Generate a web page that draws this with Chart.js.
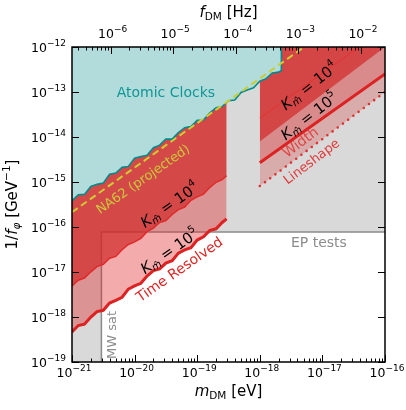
<!DOCTYPE html>
<html><head><meta charset="utf-8">
<script src="https://cdn.jsdelivr.net/npm/chart.js@4.4.1/dist/chart.umd.min.js"></script>
<style>html,body{margin:0;padding:0;background:#fff}#wrap{width:406px;height:410px;position:relative}</style>
</head><body><div id="wrap"><canvas id="c"></canvas></div>
<script>
// ---------- data ----------
const massTicks = [1e-21, 1e-20, 1e-19, 1e-18, 1e-17, 1e-16];          // eV
const freqTicks = [1e-6, 1e-5, 1e-4, 1e-3, 1e-2];                        // Hz
const couplingTicks = [1e-19, 1e-18, 1e-17, 1e-16, 1e-15, 1e-14, 1e-13, 1e-12]; // GeV^-1
const planckEVs = 4.135667e-15; // eV*s, m = h f

// Atomic clocks exclusion boundary
const clockMass = [1e-21,1.26e-21,1.58e-21,2.0e-21,2.51e-21,3.16e-21,3.98e-21,5.01e-21,6.31e-21,7.94e-21,
  1e-20,1.26e-20,1.58e-20,2.0e-20,2.51e-20,3.16e-20,3.98e-20,5.01e-20,6.31e-20,7.94e-20,
  1e-19,1.26e-19,1.58e-19,2.0e-19,2.51e-19,3.16e-19,3.98e-19,5.01e-19,6.31e-19,7.94e-19,
  1e-18,1.26e-18,1.58e-18,2.0e-18,2.21e-18,2.21e-18];
const clockCoupling = [3.80e-16,5.21e-16,5.30e-16,7.96e-16,8.87e-16,9.44e-16,1.49e-15,1.58e-15,2.12e-15,2.20e-15,
  3.39e-15,3.69e-15,3.93e-15,5.77e-15,6.58e-15,9.02e-15,8.95e-15,1.26e-14,1.61e-14,1.71e-14,
  2.34e-14,2.38e-14,3.42e-14,4.48e-14,4.76e-14,6.38e-14,6.64e-14,9.75e-14,1.11e-13,1.24e-13,
  1.74e-13,1.98e-13,2.65e-13,2.76e-13,3.0e-13,1e-12];

// NA62 projection
const na62Mass = [1e-21, 5.1e-18];
const na62Coupling = [2.14e-16, 1e-12];

// Time resolved (K = 1e4, K = 1e5)
const trMass = [1e-21,1.26e-21,1.58e-21,2.0e-21,2.51e-21,3.16e-21,3.98e-21,5.01e-21,6.31e-21,7.94e-21,
  1e-20,1.26e-20,1.58e-20,2.0e-20,2.51e-20,3.16e-20,3.98e-20,5.01e-20,6.31e-20,7.94e-20,
  1e-19,1.26e-19,1.58e-19,2.0e-19,2.51e-19,2.95e-19];
const trK4Coupling = [4.90e-18,6.58e-18,7.35e-18,1.01e-17,1.32e-17,1.48e-17,2.03e-17,2.22e-17,3.12e-17,4.09e-17,
  4.68e-17,5.60e-17,7.87e-17,9.42e-17,1.26e-16,1.38e-16,1.90e-16,2.43e-16,2.78e-16,3.91e-16,
  4.68e-16,5.35e-16,7.52e-16,9.86e-16,1.13e-15,1.38e-15];
const trK5Coupling = [4.68e-19,6.46e-19,6.92e-19,1.00e-18,1.32e-18,1.41e-18,2.04e-18,2.34e-18,2.75e-18,4.17e-18,
  4.90e-18,5.62e-18,8.13e-18,1.07e-17,1.17e-17,1.58e-17,1.78e-17,2.63e-17,3.09e-17,3.47e-17,
  5.13e-17,6.03e-17,8.32e-17,9.12e-17,1.26e-16,1.51e-16];

// Width / lineshape
const widthMass = [1e-18, 1e-16];
const widthEdgeCoupling = [7.94e-15, 1e-12];
const widthK4Coupling = [2.63e-14, 2.63e-12];
const widthK5Coupling = [2.69e-15, 2.51e-13];
const lineshapeCoupling = [8.13e-16, 1.0e-13];

// EP tests and MW satellites
const epCoupling = 7.7e-17;
const mwMass = 2.95e-21;

// ---------- helpers ----------
const F = "'DejaVu Sans'";
Chart.defaults.font.family = "DejaVu Sans";
const zip = (xs, ys) => xs.map((x, i) => ({x, y: ys[i]}));
const expOf = v => Math.round(Math.log10(v));
const xMin = massTicks[0], xMax = massTicks[massTicks.length-1];
const yMin = couplingTicks[0], yMax = couplingTicks[couplingTicks.length-1];

function rich(ctx, segs, x, y, ang, color, align) {
  ctx.save(); ctx.translate(x, y); ctx.rotate(ang * Math.PI / 180);
  let w = 0;
  for (const s of segs) { ctx.font = s.f; s.w = ctx.measureText(s.t).width; w += s.w; }
  let cx = align === 'right' ? -w : -w / 2;
  ctx.textBaseline = 'middle'; ctx.textAlign = 'left'; ctx.fillStyle = color;
  for (const s of segs) { ctx.font = s.f; ctx.fillText(s.t, cx, s.dy || 0); cx += s.w; }
  ctx.restore();
}
const powLabel = v => [{t:'10', f:'12.5px ' + F}, {t:String(expOf(v)).replace('-', '\u2212'), f:'9px ' + F, dy:-5}];
const kLabel = (p) => [
  {t:'K', f:'italic 15px ' + F}, {t:'m\u0302', f:'italic 10px ' + F, dy:4},
  {t:' = 10', f:'15px ' + F}, {t:p, f:'10px ' + F, dy:-6}];

const annotations = [
  {segs:[{t:'Atomic Clocks', f:'14px ' + F}], m:3.16e-20, c:9.5e-14, a:0, col:'#119595'},
  {segs:[{t:'NA62 (projected)', f:'13px ' + F}], m:1.38e-20, c:1.12e-15, a:-35, col:'#c9c93a'},
  {segs:kLabel('4'), m:3.7e-20, c:2.95e-16, a:-35, col:'#000'},
  {segs:kLabel('5'), m:3.7e-20, c:2.77e-17, a:-35, col:'#000'},
  {segs:[{t:'Time Resolved', f:'14px ' + F}], m:5.3e-20, c:1.1e-17, a:-35, col:'#dc2424'},
  {segs:kLabel('4'), m:6.3e-18, c:1.29e-13, a:-38, col:'#000'},
  {segs:kLabel('5'), m:6.3e-18, c:2.77e-14, a:-38, col:'#000'},
  {segs:[{t:'Width', f:'14px ' + F}], m:4.55e-18, c:7.4e-15, a:-37, col:'rgba(225,50,50,0.85)'},
  {segs:[{t:'Lineshape', f:'13px ' + F}], m:6.8e-18, c:2.77e-15, a:-37, col:'#e03a3a'},
  {segs:[{t:'EP tests', f:'14px ' + F}], m:8.8e-18, c:4.4e-17, a:0, col:'#8c8c8c'},
  {segs:[{t:'MW sat', f:'13px ' + F}], m:4.5e-21, c:4.0e-19, a:-90, col:'#8c8c8c'},
];

const decor = {
  id: 'decor',
  afterDatasetsDraw(chart) {
    const ctx = chart.ctx, xs = chart.scales.x, ys = chart.scales.y;
    for (const an of annotations)
      rich(ctx, an.segs, xs.getPixelForValue(an.m), ys.getPixelForValue(an.c), an.a, an.col);
  },
  afterDraw(chart) {
    const ctx = chart.ctx, a = chart.chartArea;
    const xs = chart.scales.x, x2 = chart.scales.x2, ys = chart.scales.y;
    ctx.save(); ctx.strokeStyle = '#000'; ctx.lineWidth = 1;
    const tick = (x0, y0, x1, y1) => { ctx.beginPath(); ctx.moveTo(x0, y0); ctx.lineTo(x1, y1); ctx.stroke(); };
    for (let n = -22; n <= -16; n++) for (let k = 1; k <= 9; k++) {
      const v = k * Math.pow(10, n);
      if (v < xMin * 0.999 || v > xMax * 1.001) continue;
      const p = Math.round(xs.getPixelForValue(v)) + 0.5;
      tick(p, a.bottom, p, a.bottom - (k === 1 ? 7 : 3.5));
    }
    for (let n = -8; n <= -1; n++) for (let k = 1; k <= 9; k++) {
      const v = k * Math.pow(10, n);
      if (v < x2.min || v > x2.max) continue;
      const p = Math.round(x2.getPixelForValue(v)) + 0.5;
      tick(p, a.top, p, a.top + (k === 1 ? 7 : 3.5));
    }
    for (const v of couplingTicks) {
      const p = Math.round(ys.getPixelForValue(v)) + 0.5;
      tick(a.left, p, a.left + 7, p); tick(a.right, p, a.right - 7, p);
    }
    ctx.lineWidth = 1.5;
    ctx.strokeRect(a.left, a.top, a.right - a.left, a.bottom - a.top);
    ctx.restore();
    // tick labels
    for (const v of massTicks) rich(ctx, powLabel(v), xs.getPixelForValue(v) + 2, a.bottom + 12, 0, '#000');
    for (const v of freqTicks) rich(ctx, powLabel(v), x2.getPixelForValue(v) + 2, a.top - 12, 0, '#000');
    for (const v of couplingTicks) rich(ctx, powLabel(v), a.left - 6, ys.getPixelForValue(v) + 2, 0, '#000', 'right');
    // axis titles
    const cx = (a.left + a.right) / 2;
    rich(ctx, [{t:'m', f:'italic 15px ' + F}, {t:'DM', f:'10.5px ' + F, dy:4}, {t:' [eV]', f:'15px ' + F}], cx, 392, 0, '#000');
    rich(ctx, [{t:'f', f:'italic 15px ' + F}, {t:'DM', f:'10.5px ' + F, dy:4}, {t:' [Hz]', f:'15px ' + F}], cx, 13, 0, '#000');
    rich(ctx, [{t:'1/', f:'15px ' + F}, {t:'f', f:'italic 15px ' + F}, {t:'\u03C6', f:'italic 10.5px ' + F, dy:4},
               {t:' [GeV', f:'15px ' + F}, {t:'\u22121', f:'10.5px ' + F, dy:-6}, {t:']', f:'15px ' + F}],
         13, (a.top + a.bottom) / 2, -90, '#000');
  }
};

const grey = '#d9d9d9';
const datasets = [
  {data: zip(na62Mass, na62Coupling), borderColor:'#cccc33', borderWidth:2, borderDash:[7,4], fill:false, order:1},
  {data: zip(clockMass, clockCoupling), borderColor:'#008b8b', borderWidth:1.6, backgroundColor:'#b2dcdc', fill:'end', order:2},
  {data: zip(widthMass, widthK4Coupling), borderColor:'#e83030', borderWidth:1, fill:false, order:3},
  {data: zip(widthMass, widthEdgeCoupling), borderWidth:0, borderColor:'rgba(0,0,0,0)', backgroundColor:'rgba(210,40,40,0.7)', fill:'end', order:4},
  {data: zip(widthMass, widthK5Coupling), borderColor:'#dc2222', borderWidth:3, backgroundColor:'rgba(220,40,40,0.25)', fill:'end', order:5},
  {data: zip(widthMass, lineshapeCoupling), borderColor:'#e03030', borderWidth:2.6, borderDash:[0,6.5], borderCapStyle:'round', backgroundColor:'rgba(220,40,40,0.25)', fill:'end', order:6},
  {data: zip(trMass, trK4Coupling), borderColor:'#e02a2a', borderWidth:1.5, backgroundColor:'rgba(210,40,40,0.7)', fill:'end', order:7},
  {data: zip(trMass, trK5Coupling), borderColor:'#dc2222', borderWidth:3, backgroundColor:'rgba(225,35,35,0.38)', fill:'end', order:8},
  {data: [{x:mwMass, y:yMin}, {x:mwMass, y:epCoupling}, {x:xMax, y:epCoupling}], borderColor:'#8a8a8a', borderWidth:1.5, fill:false, order:9},
  {data: [{x:xMin, y:epCoupling}, {x:xMax, y:epCoupling}], borderWidth:0, borderColor:'rgba(0,0,0,0)', backgroundColor:grey, fill:'end', order:10},
  {data: [{x:xMin, y:yMax}, {x:mwMass, y:yMax}], borderWidth:0, borderColor:'rgba(0,0,0,0)', backgroundColor:grey, fill:'start', order:11},
];

new Chart(document.getElementById('c'), {
  type: 'line',
  data: {datasets},
  options: {
    responsive: true, maintainAspectRatio: false, animation: false, devicePixelRatio: 1,
    layout: {padding: {left: 0, right: 21, top: 0, bottom: 0}},
    plugins: {legend: {display: false}, tooltip: {enabled: false}},
    elements: {point: {radius: 0, hoverRadius: 0}, line: {tension: 0}},
    scales: {
      x: {type: 'logarithmic', position: 'bottom', min: xMin, max: xMax,
          afterFit: s => { s.height = 48; },
          afterBuildTicks: s => { s.ticks = massTicks.map(v => ({value: v})); },
          ticks: {display: false}, grid: {display: false, drawTicks: false}, border: {display: false}},
      x2: {type: 'logarithmic', position: 'top', min: xMin / planckEVs, max: xMax / planckEVs,
          afterFit: s => { s.height = 47; },
          afterBuildTicks: s => { s.ticks = freqTicks.map(v => ({value: v})); },
          ticks: {display: false}, grid: {display: false, drawTicks: false}, border: {display: false}},
      y: {type: 'logarithmic', position: 'left', min: yMin, max: yMax,
          afterFit: s => { s.width = 72; },
          afterBuildTicks: s => { s.ticks = couplingTicks.map(v => ({value: v})); },
          ticks: {display: false}, grid: {display: false, drawTicks: false}, border: {display: false}}
    }
  },
  plugins: [decor]
});
</script>
</body></html>
